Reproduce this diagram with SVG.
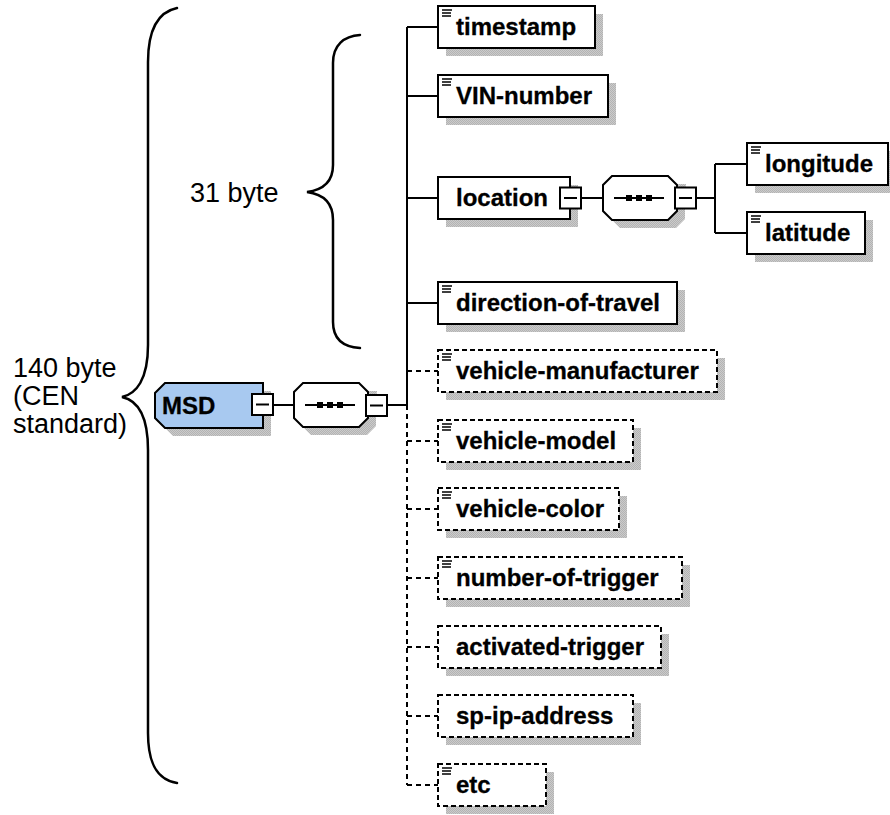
<svg xmlns="http://www.w3.org/2000/svg" xmlns:xlink="http://www.w3.org/1999/xlink" width="890" height="815" viewBox="0 0 890 815">
  <style>
    .box { fill: #fff; stroke: #000; stroke-width: 2; }
    .opt { stroke-dasharray: 5 3; }
    .shadow { fill: url(#shade); stroke: none; }
    .root { fill: #a8c9f0; stroke: #000; stroke-width: 2; }
    .lbl { font-family: "Liberation Sans", Arial, sans-serif; font-weight: bold; font-size: 24px; fill: #000; stroke: #000; stroke-width: 0.3; }
    .note { font-family: "Liberation Sans", Arial, sans-serif; font-size: 27px; fill: #000; }
    .brace { fill: none; stroke: #000; stroke-width: 2.5; stroke-linecap: round; }
    .wire { fill: none; stroke: #000; stroke-width: 2; }
    .dash { stroke-dasharray: 5 4; }
  </style>
  <defs>
    <!-- dithered grey used for drop shadows -->
    <pattern id="shade" width="2" height="2" patternUnits="userSpaceOnUse">
      <rect width="2" height="2" fill="#cbcbcb"/>
      <rect width="1" height="1" fill="#b3b3b3"/>
      <rect x="1" y="1" width="1" height="1" fill="#b3b3b3"/>
    </pattern>
    <!-- simple-content marker (three bars) -->
    <path id="ic" d="M0,0h10M0,3h9M0,6h9" stroke="#000" stroke-width="1.5" fill="none"/>
    <!-- collapse toggle -->
    <g id="minus">
      <rect x="0" y="0" width="21" height="21" fill="#fff" stroke="#000" stroke-width="2"/>
      <path d="M4,10.5h13" stroke="#000" stroke-width="2"/>
    </g>
    <!-- sequence compositor -->
    <g id="seq">
      <polygon points="17,8 83,8 82,17 82,43 73,52 17,52 8,43 8,17" class="shadow"/>
      <polygon points="9,0 65,0 74,9 74,35 65,44 9,44 0,35 0,9" fill="#fff" stroke="#000" stroke-width="2"/>
      <path d="M11,22h50" stroke="#000" stroke-width="2"/>
      <rect x="23" y="19" width="6" height="6" fill="#000"/>
      <rect x="33" y="19" width="6" height="6" fill="#000"/>
      <rect x="43" y="19" width="6" height="6" fill="#000"/>
    </g>
  </defs>

  <rect width="890" height="815" fill="#fff"/>

  <!-- size annotations -->
  <g id="brace-140">
    <path class="brace" d="M177,8 C158,12 148,30 148,62 L148,345 C148,380 136,394 122,397 C136,400 148,414 148,450 L148,733 C148,765 158,780 177,783"/>
    <text class="note" x="13" y="377">140 byte</text>
    <text class="note" x="13" y="405">(CEN</text>
    <text class="note" x="13" y="433">standard)</text>
  </g>
  <g id="brace-31">
    <path class="brace" d="M360,35 C344,36 333,45 333,63 L333,165 C333,182 322,190 307,192 C322,194 333,202 333,220 L333,322 C333,340 344,347 360,348"/>
    <text class="note" x="190" y="202">31 byte</text>
  </g>

  <!-- connectors -->
  <g id="connectors">
    <path class="wire" d="M274,405H294M387,405H407"/>
    <path class="wire" d="M407,27V405"/>
    <path class="wire dash" d="M407,405V785"/>
    <path class="wire" d="M407,27H438M407,96H438M407,198H438M407,303H438"/>
    <path class="wire dash" d="M407,371H438M407,441H438M407,509H438M407,578H438M407,647H438M407,716H438M407,785H438"/>
    <path class="wire" d="M581,198H603M696,198H715M715,164V233M715,164H747M715,233H747"/>
  </g>

  <!-- root element -->
  <g id="MSD">
    <polygon class="shadow" points="173,391 271,391 271,436 173,436 163,426 163,401"/>
    <polygon class="root" points="165,383 263,383 263,428 165,428 155,418 155,393"/>
    <text class="lbl" x="162" y="414">MSD</text>
    <use xlink:href="#minus" x="252" y="394"/>
  </g>
  <g id="MSD-sequence">
    <use xlink:href="#seq" x="294" y="383"/>
    <use xlink:href="#minus" x="366" y="395"/>
  </g>

  <g id="timestamp">
    <rect class="shadow" x="446" y="14" width="157" height="42"/>
    <rect class="box" x="438" y="6" width="157" height="42"/>
    <use xlink:href="#ic" x="442" y="10"/>
    <text class="lbl" x="456" y="35">timestamp</text>
  </g>
  <g id="VIN-number">
    <rect class="shadow" x="446" y="83" width="170" height="42"/>
    <rect class="box" x="438" y="75" width="170" height="42"/>
    <use xlink:href="#ic" x="442" y="79"/>
    <text class="lbl" x="456" y="104">VIN-number</text>
  </g>
  <g id="location">
    <rect class="shadow" x="446" y="185" width="132" height="42"/>
    <rect class="box" x="438" y="177" width="132" height="42"/>
    <text class="lbl" x="456" y="206">location</text>
    <use xlink:href="#minus" x="560" y="187.5"/>
  </g>
  <g id="location-sequence">
    <use xlink:href="#seq" x="603" y="176"/>
    <use xlink:href="#minus" x="675" y="187.5"/>
  </g>
  <g id="longitude">
    <rect class="shadow" x="755" y="151" width="141" height="42"/>
    <rect class="box" x="747" y="143" width="141" height="42"/>
    <use xlink:href="#ic" x="751" y="147"/>
    <text class="lbl" x="765" y="172">longitude</text>
  </g>
  <g id="latitude">
    <rect class="shadow" x="755" y="220" width="118" height="42"/>
    <rect class="box" x="747" y="212" width="118" height="42"/>
    <use xlink:href="#ic" x="751" y="216"/>
    <text class="lbl" x="765" y="241">latitude</text>
  </g>
  <g id="direction-of-travel">
    <rect class="shadow" x="446" y="290" width="239" height="42"/>
    <rect class="box" x="438" y="282" width="239" height="42"/>
    <use xlink:href="#ic" x="442" y="286"/>
    <text class="lbl" x="456" y="311">direction-of-travel</text>
  </g>
  <g id="vehicle-manufacturer">
    <rect class="shadow" x="446" y="358" width="279" height="42"/>
    <rect class="box opt" x="438" y="350" width="279" height="42"/>
    <use xlink:href="#ic" x="442" y="354"/>
    <text class="lbl" x="456" y="379">vehicle-manufacturer</text>
  </g>
  <g id="vehicle-model">
    <rect class="shadow" x="446" y="428" width="195" height="42"/>
    <rect class="box opt" x="438" y="420" width="195" height="42"/>
    <use xlink:href="#ic" x="442" y="424"/>
    <text class="lbl" x="456" y="449">vehicle-model</text>
  </g>
  <g id="vehicle-color">
    <rect class="shadow" x="446" y="496" width="181" height="42"/>
    <rect class="box opt" x="438" y="488" width="181" height="42"/>
    <use xlink:href="#ic" x="442" y="492"/>
    <text class="lbl" x="456" y="517">vehicle-color</text>
  </g>
  <g id="number-of-trigger">
    <rect class="shadow" x="446" y="565" width="244" height="42"/>
    <rect class="box opt" x="438" y="557" width="244" height="42"/>
    <use xlink:href="#ic" x="442" y="561"/>
    <text class="lbl" x="456" y="586">number-of-trigger</text>
  </g>
  <g id="activated-trigger">
    <rect class="shadow" x="446" y="634" width="223" height="42"/>
    <rect class="box opt" x="438" y="626" width="223" height="42"/>
    <text class="lbl" x="456" y="655">activated-trigger</text>
  </g>
  <g id="sp-ip-address">
    <rect class="shadow" x="446" y="703" width="195" height="42"/>
    <rect class="box opt" x="438" y="695" width="195" height="42"/>
    <text class="lbl" x="456" y="724">sp-ip-address</text>
  </g>
  <g id="etc">
    <rect class="shadow" x="446" y="772" width="108" height="42"/>
    <rect class="box opt" x="438" y="764" width="108" height="42"/>
    <use xlink:href="#ic" x="442" y="768"/>
    <text class="lbl" x="456" y="793">etc</text>
  </g>
</svg>
